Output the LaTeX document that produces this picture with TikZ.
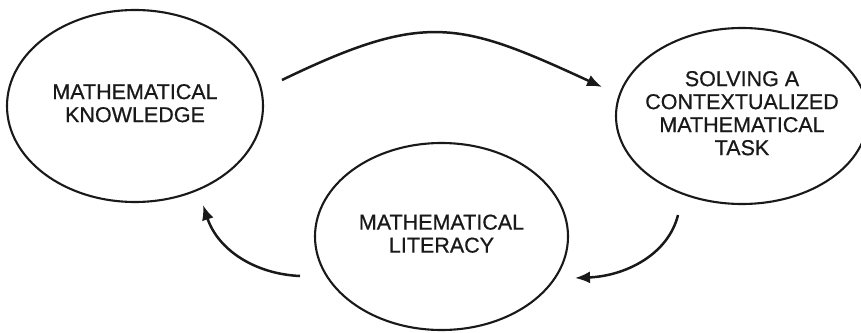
\documentclass[tikz,border=0pt]{standalone}
\usepackage{fontspec}
\setmainfont{Liberation Sans}
\newfontfamily\capfont{Liberation Sans}[FakeBold=0.6]
\usetikzlibrary{shapes.geometric,arrows.meta}
\newcommand\elltext[2]{\makebox[0pt]{\raisebox{#1}{\begin{tabular}{@{}c@{}}#2\end{tabular}}}}
\begin{document}
\begin{tikzpicture}[x=1pt,y=-1pt,
  bubble/.style={draw=black!90,line width=2.1pt,ellipse,inner sep=0pt,
    font=\capfont\fontsize{21.5}{23}\selectfont,text=black!90},
  flow/.style={draw=black!90,line width=2.5pt,-{Latex[length=15pt,width=12pt]}}]
\clip (0,0) rectangle (861,332);
\fill[white] (0,0) rectangle (861,332);
\node[bubble,minimum width=256pt,minimum height=192pt] (know) at (135,106)
  {\elltext{-4pt}{MATHEMATICAL\\KNOWLEDGE}};
\node[bubble,minimum width=252pt,minimum height=176pt] (task) at (742,116)
  {\elltext{3pt}{SOLVING A\\CONTEXTUALIZED\\MATHEMATICAL\\TASK}};
\node[bubble,minimum width=253pt,minimum height=187pt] (lit) at (441.5,236.5)
  {\elltext{-5pt}{MATHEMATICAL\\LITERACY}};
\coordinate (a1) at (282,80);
\coordinate (a2) at (602,87);
\coordinate (b1) at (678,215);
\coordinate (b2) at (575,278);
\coordinate (c1) at (300,276);
\coordinate (c2) at (203,205);
\draw[flow] (a1) .. controls (425,11) and (459,21) .. (a2);
\draw[flow] (b1) .. controls (668,255) and (625,276) .. (b2);
\draw[flow] (c1) .. controls (255,274) and (218,250) .. (c2);
\end{tikzpicture}
\end{document}
